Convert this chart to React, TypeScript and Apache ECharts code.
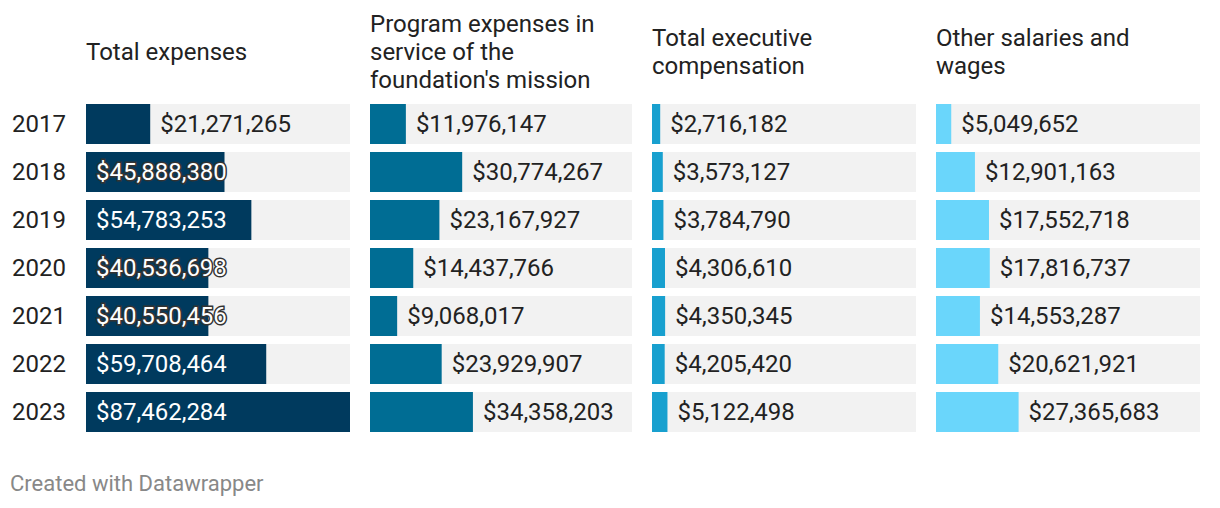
import React, { useEffect, useRef } from "react";
import * as echarts from "echarts";

const years = ["2017", "2018", "2019", "2020", "2021", "2022", "2023"];
const totalExpenses = [21271265, 45888380, 54783253, 40536698, 40550456, 59708464, 87462284];
const programExpenses = [11976147, 30774267, 23167927, 14437766, 9068017, 23929907, 34358203];
const execComp = [2716182, 3573127, 3784790, 4306610, 4350345, 4205420, 5122498];
const otherSalaries = [5049652, 12901163, 17552718, 17816737, 14553287, 20621921, 27365683];
const panelTitles = [
  "Total expenses",
  "Program expenses in\nservice of the\nfoundation's mission",
  "Total executive\ncompensation",
  "Other salaries and\nwages",
];
const panelColors = ["#003a5e", "#006d94", "#18a0cf", "#6ad6fb"];
const footer = "Created with Datawrapper";

const FONT = "Roboto, 'Noto Sans', sans-serif";
const FS = 24;

export default function App() {
  const ref = useRef<HTMLDivElement>(null);
  useEffect(() => {
    if (!ref.current) return;
    const chart = echarts.init(ref.current, undefined, { renderer: "svg" });
    const panels = [totalExpenses, programExpenses, execComp, otherSalaries];
    const maxV = Math.max(...panels.flat());
    const lefts = [86, 370, 652, 936];
    const widths = [264, 262, 264, 264];
    const fmt = (v: number) => "$" + v.toLocaleString("en-US");

    const grids = lefts.map((l, i) => ({ left: l, width: widths[i], top: 100, height: 336 }));
    const xAxes = lefts.map((_, i) => ({
      type: "value", gridIndex: i, min: 0, max: maxV, show: false,
    }));
    const yAxes = lefts.map((_, i) => ({
      type: "category", gridIndex: i, data: years, inverse: true,
      show: i === 0,
      axisLine: { show: false }, axisTick: { show: false },
      axisLabel: {
        show: i === 0, color: "#222", fontSize: FS, fontFamily: FONT,
        align: "left", margin: 74,
      },
    }));
    const series = panels.map((vals, i) => ({
      type: "bar", xAxisIndex: i, yAxisIndex: i, barWidth: 40,
      showBackground: true,
      backgroundStyle: { color: "#f2f2f2" },
      itemStyle: { color: panelColors[i] },
      data: vals.map((v) => {
        const frac = v / maxV;
        const inside = frac > 0.4;
        const halo = inside && frac < 0.6;
        return {
          value: v,
          label: inside
            ? {
                show: true, position: "insideLeft", distance: 10,
                formatter: fmt(v), color: "#fff", fontSize: FS, fontFamily: FONT,
                textBorderColor: halo ? "#333" : "transparent", textBorderWidth: halo ? 3 : 0,
              }
            : {
                show: true, position: "right", distance: 10,
                formatter: fmt(v), color: "#222", fontSize: FS, fontFamily: FONT,
              },
        };
      }),
    }));

    const graphic: any[] = panelTitles.map((t, i) => ({
      type: "text", left: lefts[i], top: 52 - (t.split("\n").length * 28) / 2,
      style: { text: t, fill: "#222", font: `${FS}px ${FONT}`, lineHeight: 28 },
    }));
    graphic.push({
      type: "text", left: 10, top: 472,
      style: { text: footer, fill: "#888", font: `22px ${FONT}` },
    });

    chart.setOption({
      animation: false,
      grid: grids,
      xAxis: xAxes,
      yAxis: yAxes,
      series,
      graphic,
    } as any);
    return () => chart.dispose();
  }, []);
  return (
    <div
      ref={ref}
      style={{ position: "fixed", left: 0, top: 0, width: 1220, height: 508, background: "#fff" }}
    />
  );
}
